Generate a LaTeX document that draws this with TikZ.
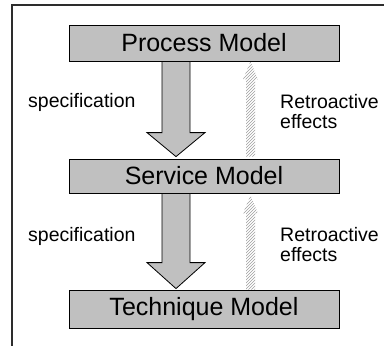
\documentclass[tikz,border=0pt]{standalone}
\usepackage{fontspec}
\setmainfont{Liberation Sans}
\usetikzlibrary{calc,patterns}
\definecolor{boxgray}{RGB}{192,192,192}
\definecolor{framegray}{RGB}{45,45,45}
\begin{document}
\begin{tikzpicture}[x=1pt,y=-1pt,
  model/.style={draw=black, line width=0.8pt, fill=boxgray, minimum width=270pt,
    inner sep=0pt, font=\fontsize{25}{30}\selectfont},
  lbl/.style={anchor=base west, inner sep=0pt, font=\fontsize{19.5}{20}\selectfont},
  bigarrow/.style={draw=black, line width=0.8pt, fill=boxgray, line join=miter},
  hatcharrow/.style={pattern=north east lines, pattern color=gray!75},
  frameline/.style={draw=framegray, line width=2pt}
]
\useasboundingbox (0,0) rectangle (384,346);
% outer frame
\coordinate (fbot) at (12,352);
\coordinate (fright) at (392,5);
\draw[frameline] (fbot) |- (fright);

% model boxes
\node[model, minimum height=36pt] (p) at (204,43) {Process Model};
\node[model, minimum height=34pt] (s) at (204,176) {Service Model};
\node[model, minimum height=38pt] (t) at (204,309) {Technique Model};

% specification arrows (downward)
\coordinate (a1top) at ($(p.south)+(-28,0)$);
\coordinate (a1tip) at ($(s.north)+(-28,-2)$);
\coordinate (a1hb) at ($(s.north)+(-28,-26)$);
\draw[bigarrow] ($(a1top)+(-14,0)$) -- ($(a1top)+(14,0)$) -- ($(a1hb)+(14,0)$)
  -- ($(a1hb)+(29,0)$) -- (a1tip) -- ($(a1hb)+(-29,0)$) -- ($(a1hb)+(-14,0)$) -- cycle;

\coordinate (a2top) at ($(s.south)+(-28,0)$);
\coordinate (a2tip) at ($(t.north)+(-28,-1)$);
\coordinate (a2hb) at ($(t.north)+(-28,-27)$);
\draw[bigarrow] ($(a2top)+(-14,0)$) -- ($(a2top)+(14,0)$) -- ($(a2hb)+(14,0)$)
  -- ($(a2hb)+(29,0)$) -- (a2tip) -- ($(a2hb)+(-29,0)$) -- ($(a2hb)+(-14,0)$) -- cycle;

% retroactive effects arrows (upward, hatched)
\coordinate (r1tip) at ($(p.south)+(46.5,0)$);
\coordinate (r1bot) at ($(s.north)+(46.5,-2)$);
\path[hatcharrow] ($(r1bot)+(-4.5,0)$) -- ($(r1tip)+(-4.5,18)$) -- ($(r1tip)+(-7.5,18)$)
  -- (r1tip) -- ($(r1tip)+(7.5,18)$) -- ($(r1tip)+(4.5,18)$) -- ($(r1bot)+(4.5,0)$) -- cycle;

\coordinate (r2tip) at ($(s.south)+(46.5,2)$);
\coordinate (r2bot) at ($(t.north)+(46.5,0)$);
\path[hatcharrow] ($(r2bot)+(-4.5,0)$) -- ($(r2tip)+(-4.5,18)$) -- ($(r2tip)+(-7.5,18)$)
  -- (r2tip) -- ($(r2tip)+(7.5,18)$) -- ($(r2tip)+(4.5,18)$) -- ($(r2bot)+(4.5,0)$) -- cycle;

% labels
\node[lbl] (spec1) at (28,107.5) {specification};
\node[lbl] (retro1a) at (280,108.3) {Retroactive};
\node[lbl] (retro1b) at (280,128.3) {effects};
\node[lbl] (spec2) at (28,241.5) {specification};
\node[lbl] (retro2a) at (280,241.7) {Retroactive};
\node[lbl] (retro2b) at (280,261.7) {effects};
\end{tikzpicture}
\end{document}
